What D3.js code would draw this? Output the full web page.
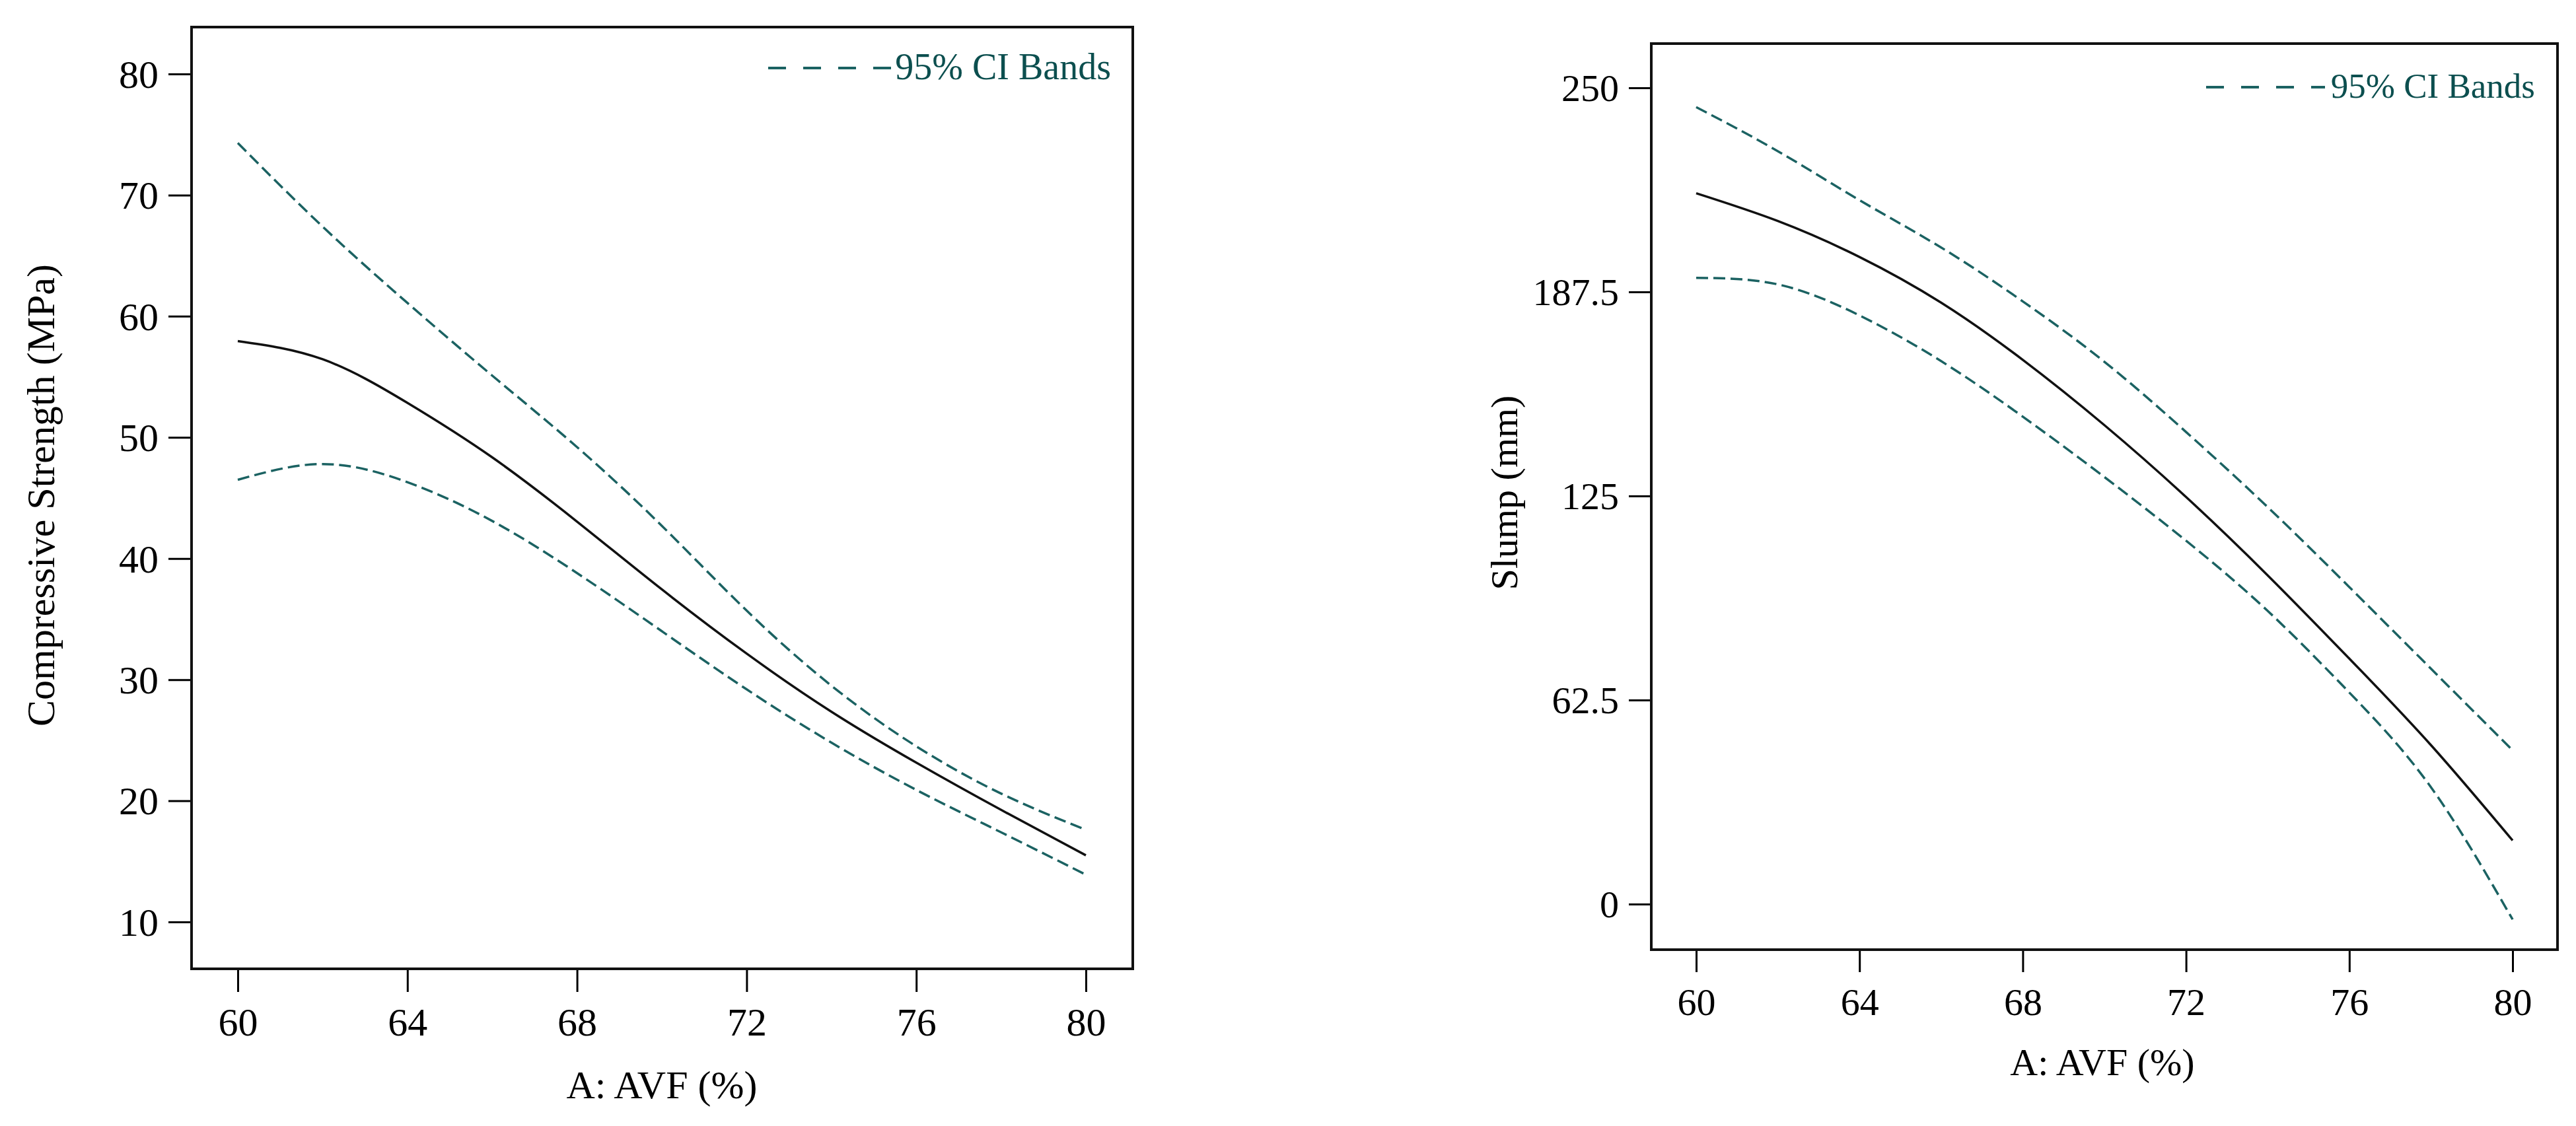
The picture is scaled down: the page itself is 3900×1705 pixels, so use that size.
<!DOCTYPE html>
<html>
<head>
<meta charset="utf-8">
<script src="https://cdn.jsdelivr.net/npm/d3@7"></script>
<style>
  html, body { margin: 0; padding: 0; background: #fff; }
  svg text { font-family: "Liberation Serif", "Times New Roman", serif; }
</style>
</head>
<body>
<svg id="chart" width="3900" height="1705"></svg>
<script>
// shared x values (A: AVF %)
const avf = [60, 62, 64, 66, 68, 70, 72, 74, 76, 78, 80];
const xTicks = [60, 64, 68, 72, 76, 80];

// left panel: compressive strength (MPa)
const strengthMean  = [57.95, 56.45, 52.85, 48.35, 43.05, 37.45, 32.15, 27.35, 23.15, 19.25, 15.5];
const strengthUpper = [74.3, 67.4, 61.1, 55.1, 49.2, 42.7, 35.7, 29.5, 24.5, 20.6, 17.6];
const strengthLower = [46.5, 47.8, 46.3, 43.1, 38.8, 34.0, 29.2, 24.8, 20.9, 17.4, 13.9];
const strengthTicks = [10, 20, 30, 40, 50, 60, 70, 80];

// right panel: slump (mm)
const slumpMean  = [217.7, 209.2, 198.2, 184.2, 166.7, 146.7, 124.7, 100.7, 75.2, 48.7, 19.5];
const slumpUpper = [244.1, 230.6, 215.6, 201.1, 184.6, 166.1, 144.6, 121.6, 97.1, 72.1, 47.1];
const slumpLower = [191.8, 189.8, 180.3, 166.3, 149.3, 130.8, 111.3, 89.8, 64.8, 35.8, -4.7];
const slumpTicks = [0, 62.5, 125, 187.5, 250];

const CI_COLOR = "#1b6262";
const LEGEND_TEXT = "95% CI Bands";

const svg = d3.select("#chart");

function drawPanel(p) {
  const g = svg.append("g");

  const x = d3.scaleLinear().domain([60, 80]).range([p.x60, p.x80]);
  const y = d3.scaleLinear().domain(p.yDomain).range(p.yRange);

  // y axis ticks
  const yAxis = d3.axisLeft(y).tickValues(p.yTicks).tickSize(p.tick).tickPadding(15)
    .tickFormat(d => String(d));
  const ya = g.append("g").attr("transform", `translate(${p.left},0)`).call(yAxis);
  ya.select(".domain").remove();
  ya.selectAll("line").attr("stroke", "#000").attr("stroke-width", 3);
  ya.selectAll("text").attr("fill", "#000").style("font-size", p.tickFont + "px")
    .attr("dy", "0.34em");

  // x axis ticks
  const xAxis = d3.axisBottom(x).tickValues(xTicks).tickSize(p.tick).tickPadding(0)
    .tickFormat(d => String(d));
  const xa = g.append("g").attr("transform", `translate(0,${p.bottom})`).call(xAxis);
  xa.select(".domain").remove();
  xa.selectAll("line").attr("stroke", "#000").attr("stroke-width", 3);
  xa.selectAll("text").attr("fill", "#000").style("font-size", p.tickFont + "px")
    .attr("y", p.xLabelBase).attr("dy", 0);

  // frame
  g.append("rect")
    .attr("x", p.left).attr("y", p.top)
    .attr("width", p.right - p.left).attr("height", p.bottom - p.top)
    .attr("fill", "none").attr("stroke", "#111").attr("stroke-width", 4);

  // curves
  const line = d3.line().x((d, i) => x(avf[i])).y(d => y(d)).curve(d3.curveNatural);

  [p.upper, p.lower].forEach(s => {
    g.append("path").attr("d", line(s))
      .attr("fill", "none").attr("stroke", CI_COLOR)
      .attr("stroke-width", 3.5).attr("stroke-dasharray", "18,8");
  });
  g.append("path").attr("d", line(p.mean))
    .attr("fill", "none").attr("stroke", "#111").attr("stroke-width", 3.5);

  // legend
  g.append("line")
    .attr("x1", p.legX1).attr("x2", p.legX2)
    .attr("y1", p.legLineY).attr("y2", p.legLineY)
    .attr("stroke", CI_COLOR).attr("stroke-width", 4)
    .attr("stroke-dasharray", "27,26");
  g.append("text")
    .attr("x", p.legTextEnd).attr("y", p.legBase)
    .attr("text-anchor", "end").attr("fill", "#0c4f4f")
    .style("font-size", p.legFont + "px")
    .text(LEGEND_TEXT);

  // axis titles
  g.append("text")
    .attr("x", p.xTitleX).attr("y", p.xTitleY)
    .attr("text-anchor", "middle").attr("fill", "#000")
    .style("font-size", p.titleFont + "px")
    .text("A: AVF (%)");
  g.append("text")
    .attr("transform", `translate(${p.yTitleX},${p.yTitleY}) rotate(-90)`)
    .attr("text-anchor", "middle").attr("fill", "#000")
    .style("font-size", p.titleFont + "px")
    .text(p.yTitle);
}

drawPanel({
  left: 290, right: 1715, top: 41, bottom: 1467,
  x60: 360, x80: 1644,
  yDomain: [10, 80], yRange: [1396, 112], yTicks: strengthTicks,
  tick: 35, tickFont: 60, xLabelBase: 101,
  mean: strengthMean, upper: strengthUpper, lower: strengthLower,
  legX1: 1163, legX2: 1354, legLineY: 103, legTextEnd: 1682, legBase: 120, legFont: 56,
  xTitleX: 1002, xTitleY: 1663, titleFont: 60,
  yTitleX: 82, yTitleY: 750, yTitle: "Compressive Strength (MPa)"
});

drawPanel({
  left: 2500, right: 3872, top: 66, bottom: 1438,
  x60: 2568, x80: 3804,
  yDomain: [0, 250], yRange: [1369, 133], yTicks: slumpTicks,
  tick: 34, tickFont: 58, xLabelBase: 99,
  mean: slumpMean, upper: slumpUpper, lower: slumpLower,
  legX1: 3340, legX2: 3520, legLineY: 132, legTextEnd: 3838, legBase: 148, legFont: 53,
  xTitleX: 3183, xTitleY: 1628, titleFont: 58,
  yTitleX: 2297, yTitleY: 746, yTitle: "Slump (mm)"
});
</script>
</body>
</html>
